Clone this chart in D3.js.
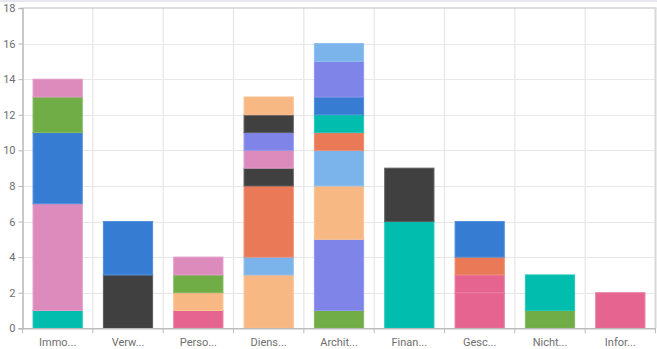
<!DOCTYPE html>
<html>
<head>
<meta charset="utf-8">
<script src="https://cdn.jsdelivr.net/npm/d3@7"></script>
<style>
  html, body { margin: 0; padding: 0; background: #fff; }
  svg { display: block; font-family: Roboto, "Noto Sans", sans-serif; }
</style>
</head>
<body>
<svg id="chart" width="657" height="349"></svg>
<script>
// Category labels along the x axis (already truncated as displayed)
const categories = ["Immo...", "Verw...", "Perso...", "Diens...", "Archit...", "Finan...", "Gesc...", "Nicht...", "Infor..."];

// Series colour cycle
const palette = ["#00bdae", "#404041", "#357cd2", "#e56590", "#f8b883", "#70ad47", "#dd8abd", "#7f84e8", "#7bb4eb", "#ea7a57"];

// One row per series, one value per category (stacked in this order)
const seriesValues = [
  [1, 0, 0, 0, 0, 6, 0, 0, 0],
  [0, 3, 0, 0, 0, 3, 0, 0, 0],
  [0, 3, 0, 0, 0, 0, 0, 0, 0],
  [0, 0, 1, 0, 0, 0, 2, 0, 2],
  [0, 0, 1, 3, 0, 0, 0, 0, 0],
  [0, 0, 1, 0, 1, 0, 0, 1, 0],
  [6, 0, 1, 0, 0, 0, 0, 0, 0],
  [0, 0, 0, 0, 4, 0, 0, 0, 0],
  [0, 0, 0, 1, 0, 0, 0, 0, 0],
  [0, 0, 0, 4, 0, 0, 0, 0, 0],
  [0, 0, 0, 0, 0, 0, 0, 2, 0],
  [0, 0, 0, 1, 0, 0, 0, 0, 0],
  [4, 0, 0, 0, 0, 0, 0, 0, 0],
  [0, 0, 0, 0, 0, 0, 1, 0, 0],
  [0, 0, 0, 0, 3, 0, 0, 0, 0],
  [2, 0, 0, 0, 0, 0, 0, 0, 0],
  [1, 0, 0, 1, 0, 0, 0, 0, 0],
  [0, 0, 0, 1, 0, 0, 0, 0, 0],
  [0, 0, 0, 0, 2, 0, 0, 0, 0],
  [0, 0, 0, 0, 1, 0, 1, 0, 0],
  [0, 0, 0, 0, 1, 0, 0, 0, 0],
  [0, 0, 0, 1, 0, 0, 0, 0, 0],
  [0, 0, 0, 0, 1, 0, 2, 0, 0],
  [0, 0, 0, 0, 0, 0, 0, 0, 0],
  [0, 0, 0, 1, 0, 0, 0, 0, 0],
  [0, 0, 0, 0, 0, 0, 0, 0, 0],
  [0, 0, 0, 0, 0, 0, 0, 0, 0],
  [0, 0, 0, 0, 2, 0, 0, 0, 0],
  [0, 0, 0, 0, 1, 0, 0, 0, 0]
];

// Y axis tick values
const yTicks = [0, 2, 4, 6, 8, 10, 12, 14, 16, 18];

const svg = d3.select("#chart");
const W = 657, H = 349;
const plot = { left: 22.5, right: 655.5, top: 8, bottom: 328.3 };

// Thin strip along the top edge of the chart container
svg.append("rect").attr("x", 0).attr("y", 0).attr("width", W).attr("height", 2).attr("fill", "#e6e8ed");

const x = d3.scaleBand().domain(d3.range(categories.length)).range([plot.left, plot.right]).padding(0);
const y = d3.scaleLinear().domain([0, 18]).range([plot.bottom, plot.top]);

// Horizontal grid
svg.append("g").selectAll("line").data(yTicks.slice(1, -1)).join("line")
  .attr("x1", plot.left).attr("x2", plot.right)
  .attr("y1", d => Math.round(y(d)) + 0.5).attr("y2", d => Math.round(y(d)) + 0.5)
  .attr("stroke", "#e8e8e8").attr("stroke-width", 1.2);

// Vertical grid at category boundaries
svg.append("g").selectAll("line").data(d3.range(1, categories.length)).join("line")
  .attr("x1", d => x(d)).attr("x2", d => x(d))
  .attr("y1", plot.top).attr("y2", plot.bottom)
  .attr("stroke", "#e6e6e6").attr("stroke-width", 1.2);

// Frame: top and right
svg.append("line").attr("x1", plot.left).attr("x2", plot.right + 1)
  .attr("y1", y(18)).attr("y2", y(18)).attr("stroke", "#bdbdbd").attr("stroke-width", 1.2);
svg.append("line").attr("x1", plot.right).attr("x2", plot.right)
  .attr("y1", y(18)).attr("y2", plot.bottom).attr("stroke", "#d8d8d8").attr("stroke-width", 2);

// Stacked bars
const keys = d3.range(seriesValues.length);
const rows = categories.map((c, i) => {
  const r = { cat: i };
  keys.forEach(k => { r[k] = seriesValues[k][i]; });
  return r;
});
const stacked = d3.stack().keys(keys)(rows);
const barW = x.bandwidth() * 0.7;

svg.append("g").selectAll("g").data(stacked).join("g")
  .attr("fill", d => palette[d.key % palette.length])
  .attr("stroke", d => d3.interpolateRgb(palette[d.key % palette.length], "#ffffff")(0.15))
  .selectAll("rect").data(d => d.filter(s => s[1] - s[0] > 0)).join("rect")
  .attr("x", d => x(d.data.cat) + (x.bandwidth() - barW) / 2)
  .attr("width", barW)
  .attr("y", d => y(d[1]))
  .attr("height", d => y(d[0]) - y(d[1]))
  .attr("stroke-width", 1);

// Y axis
const yAxis = d3.axisLeft(y).tickValues(yTicks).tickSize(4).tickPadding(3);
const gy = svg.append("g").attr("transform", `translate(${plot.left},0)`).call(yAxis);
gy.select(".domain").attr("stroke", "#b8b8b8").attr("stroke-width", 1.5);
gy.selectAll(".tick line").attr("stroke", "#b8b8b8");
gy.selectAll(".tick text").attr("fill", "#6e6e6e").style("font-size", "11px").style("font-family", "Roboto, sans-serif");

// X axis
const xAxis = d3.axisBottom(x).tickFormat(i => categories[i]).tickSize(0).tickPadding(10);
const gx = svg.append("g").attr("transform", `translate(0,${plot.bottom})`).call(xAxis);
gx.select(".domain").attr("stroke", "#bdbdbd").attr("stroke-width", 1.5);
gx.selectAll(".tick text").attr("fill", "#6e6e6e").style("font-size", "11px").style("font-family", "Roboto, sans-serif");

// X tick marks on category boundaries
svg.append("g").selectAll("line").data(d3.range(0, categories.length + 1)).join("line")
  .attr("x1", d => d < categories.length ? x(d) : plot.right)
  .attr("x2", d => d < categories.length ? x(d) : plot.right)
  .attr("y1", plot.bottom).attr("y2", plot.bottom + 5)
  .attr("stroke", "#bdbdbd").attr("stroke-width", 1);
</script>
</body>
</html>
